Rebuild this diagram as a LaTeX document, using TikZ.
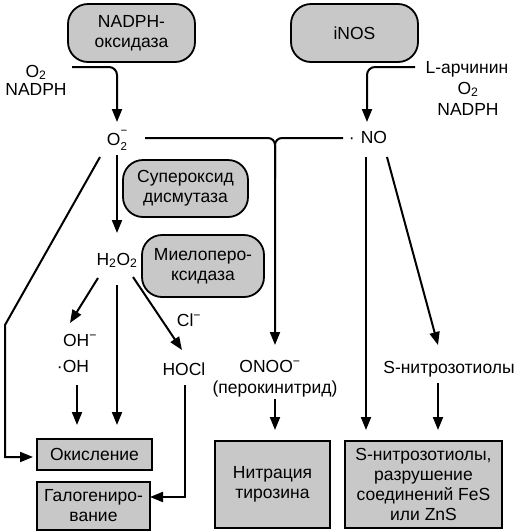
\documentclass[tikz,border=0pt]{standalone}
\usepackage{fontspec}
\setmainfont{Liberation Sans}
\usetikzlibrary{arrows.meta,calc}
\definecolor{boxgray}{RGB}{200,200,200}
\newcommand{\mysub}[1]{\textsubscript{#1}}
\newcommand{\mysup}[1]{\textsuperscript{#1}}
\newcommand{\smallidx}{\fontsize{11.5}{12}\selectfont}
\begin{document}
\begin{tikzpicture}[x=1pt,y=-1pt,
  every node/.style={font=\fontsize{17.5}{20}\selectfont, inner sep=0pt, outer sep=0pt},
  lbl/.style={anchor=base},
  rbox/.style={draw, line width=1.8pt, fill=boxgray, rounded corners=20pt, align=center},
  rect/.style={draw, line width=1.8pt, fill=boxgray, align=center},
  ln/.style={line width=2pt},
  arr/.style={ln, -{Triangle[length=13pt,width=10pt]}}]
\useasboundingbox (0,0) rectangle (530,531);

% boxes
\node[rbox, minimum width=127pt, minimum height=58pt] (nox) at (131.5,33) {NADPH-\\оксидаза};
\node[rbox, minimum width=127pt, minimum height=58pt] (inos) at (354.5,33) {iNOS};
\node[rbox, minimum width=125pt, minimum height=57pt] (sod) at (185.5,188.5) {Супероксид\\дисмутаза};
\node[rbox, minimum width=122pt, minimum height=62pt] (mpo) at (203,266) {Миелоперо-\\ксидаза};
\node[rect, minimum width=115pt, minimum height=31pt] (ok) at (94.5,454.5) {Окисление};
\node[rect, minimum width=113pt, minimum height=48pt] (gal) at (93.5,506) {Галогениро-\\вание};
\node[rect, minimum width=115pt, minimum height=87pt] (nit) at (272.5,484.5) {Нитрация\\тирозина};
\node[rect, minimum width=157pt, minimum height=87pt] (sb) at (423.5,484.5) {S-нитрозотиолы,\\разрушение\\соединений FeS\\или ZnS};

% labels
\node[lbl] (lo2) at (36,77) {O\mysub{2}};
\node[lbl] (lnadph) at (36,95) {NADPH};
\node[lbl] (rarg) at (467,73) {L-арчинин};
\node[lbl] (ro2) at (468,94) {O\mysub{2}};
\node[lbl] (rnadph) at (468,115) {NADPH};
\node[lbl] (o2m) at (117,145) {O\rlap{\raisebox{0.62em}{\smallidx −}}\raisebox{-0.3em}{\smallidx 2}};
\node[lbl] (no) at (368,143) {·\hspace{6pt}NO};
\node[lbl] (h2o2) at (117,265) {H\mysub{2}O\mysub{2}};
\node[lbl] (oh) at (80,346) {OH\mysup{−}};
\node[lbl] (ohr) at (73,372) {·OH};
\node[lbl] (cl) at (189,326) {Cl\mysup{−}};
\node[lbl] (hocl) at (184,375) {HOCl};
\node[lbl] (onoo) at (270,372) {ONOO\mysup{−}};
\node[lbl] (perok) at (275,393) {(перокинитрид)};
\node[lbl] (snit) at (449,373) {S-нитрозотиолы};

% helper coordinates
\coordinate (in1) at (72,67);
\coordinate (in2) at (415,67);
\coordinate (o2r) at ([xshift=28pt,yshift=7pt]o2m.base);
\coordinate (nol) at ([xshift=-25pt,yshift=5pt]no.base);
\coordinate (bend) at (5,325);
\coordinate (nos) at ([xshift=-2pt,yshift=-14pt]no.base);
\coordinate (h2s) at ([yshift=-20pt]h2o2.base);
\coordinate (ohs) at ([xshift=4pt,yshift=-13pt]ohr.base);
\coordinate (snits) at ([xshift=-11pt,yshift=-10pt]snit.base);
\coordinate (perks) at ([yshift=-6pt]perok.base);

% connectors
\draw[arr, rounded corners=8pt] (in1) -| ([yshift=23pt]o2m.base);
\draw[arr, rounded corners=8pt] (in2) -| ([xshift=-1pt,yshift=21pt]no.base);
\draw[arr, rounded corners=7pt] (o2r) -- (o2r -| perok.base) -- ($(perok.base |- onoo.base)+(0,-27)$);
\draw[ln, rounded corners=7pt] (nol) -- (nol -| perok.base) -- ($(nol -| perok.base)+(0,40)$);
\draw[arr] ([yshift=-10pt]o2m.base) -- ([yshift=32pt]h2o2.base);
\draw[arr, shorten >=4pt] ([xshift=-17pt,yshift=-12pt]o2m.base) -- (bend) |- ($(ok.west)+(0,2.5)$);
\draw[arr] ([xshift=-19pt,yshift=-13pt]h2o2.base) -- ([xshift=-10pt,yshift=23pt]oh.base);
\draw[arr, shorten >=14pt] (h2s) -- (h2s |- ok.north);
\draw[arr] ([xshift=16pt,yshift=-12pt]h2o2.base) -- ([xshift=-2pt,yshift=25pt]hocl.base);
\draw[arr, shorten >=14pt] (ohs) -- (ohs |- ok.north);
\draw[arr] ([xshift=1pt,yshift=-10pt]hocl.base) |- ([yshift=9pt]gal.east);
\draw[arr, shorten >=11pt] (perks) -- (perks |- nit.north);
\draw[arr, shorten >=11pt] (nos) -- (nos |- sb.north);
\draw[arr] ([xshift=19pt,yshift=-14pt]no.base) -- ([xshift=-11pt,yshift=28pt]snit.base);
\draw[arr, shorten >=11pt] (snits) -- (snits |- sb.north);
\end{tikzpicture}
\end{document}
